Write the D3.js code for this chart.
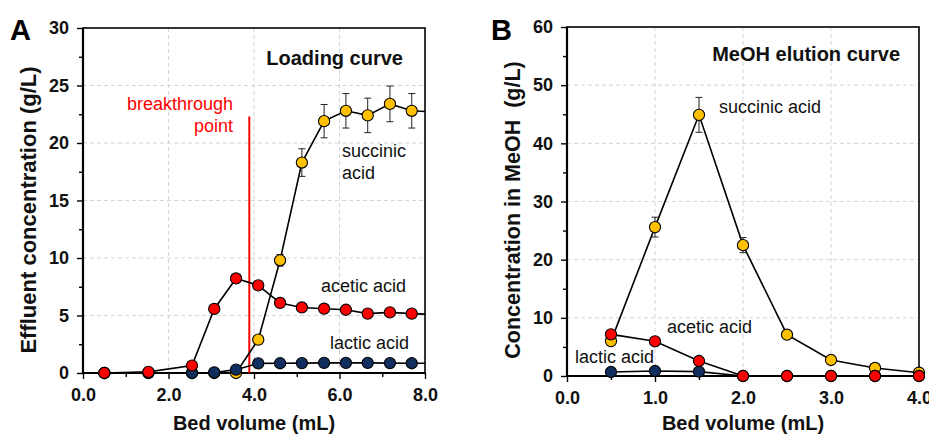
<!DOCTYPE html>
<html>
<head>
<meta charset="utf-8">
<script src="https://cdn.jsdelivr.net/npm/d3@7"></script>
<style>
  body { margin: 0; background: #fff; }
  svg { display: block; font-family: "Liberation Sans", Arial, sans-serif; }
</style>
</head>
<body>
<svg id="chart" width="929" height="434"></svg>
<script>
// panel A - loading curve
var aX        = [0.5, 1.53, 2.55, 3.07, 3.58, 4.1, 4.61, 5.12, 5.64, 6.15, 6.66, 7.18, 7.69, 8.2]
var aSuccinic = [0, 0, 0, 0, 0, 2.9, 9.8, 18.3, 21.9, 22.8, 22.4, 23.4, 22.8, 22.7]
var aSuccErr  = [0, 0, 0, 0, 0, 0, 0.5, 1.2, 1.45, 1.5, 1.5, 1.55, 1.5, 1.5]
var aAcetic   = [0, 0.1, 0.65, 5.57, 8.22, 7.62, 6.09, 5.7, 5.59, 5.5, 5.16, 5.27, 5.16, 5.1]
var aLactic   = [0, 0, 0, 0.05, 0.29, 0.84, 0.85, 0.86, 0.88, 0.88, 0.88, 0.86, 0.85, 0.85]
var breakthrough = {x: 3.89, top: 22.3}

// panel B - MeOH elution curve
var bX        = [0.5, 1.0, 1.5, 2.0, 2.5, 3.0, 3.5, 4.0]
var bSuccinic = [6.0, 25.6, 44.9, 22.5, 7.1, 2.75, 1.38, 0.57]
var bSuccErr  = [0, 1.7, 3.0, 1.3, 0, 0, 0, 0]
var bAcetic   = [7.16, 5.96, 2.58, 0, 0, 0, 0, 0]
var bLactic   = [0.69, 0.86, 0.75, 0, 0, 0, 0, 0]

var colors = {succinic: '#FFC000', acetic: '#FF0000', lactic: '#112F5E'}

var svg = d3.select('#chart')

function panel(o) {
  var x = d3.scaleLinear().domain(o.xDomain).range([o.left, o.right])
  var y = d3.scaleLinear().domain(o.yDomain).range([o.bottom, o.top])
  var g = svg.append('g')

  var clipId = 'clip' + o.letter
  g.append('clipPath').attr('id', clipId)
    .append('rect')
      .attr('x', o.left - 20).attr('y', o.top - 20)
      .attr('width', o.right - o.left + 20).attr('height', o.bottom - o.top + 40)

  // grid
  g.append('g').selectAll('line').data(o.xMajor.filter(function(d){ return d > o.xDomain[0] && d < o.xDomain[1] }))
    .join('line')
      .attr('x1', x).attr('x2', x).attr('y1', o.top).attr('y2', o.bottom)
      .attr('stroke', '#d4d4d4').attr('stroke-dasharray', '4,3')
  g.append('g').selectAll('line').data(o.yMajor.filter(function(d){ return d > o.yDomain[0] && d < o.yDomain[1] }))
    .join('line')
      .attr('y1', y).attr('y2', y).attr('x1', o.left).attr('x2', o.right)
      .attr('stroke', '#d4d4d4').attr('stroke-dasharray', '4,3')

  // axes
  var xAxis = g.append('g').attr('transform', 'translate(0,' + o.bottom + ')')
    .call(d3.axisBottom(x).tickValues(o.xMajor).tickFormat(d3.format('.1f')).tickSize(6).tickPadding(9))
  var xMinor = g.append('g').attr('transform', 'translate(0,' + o.bottom + ')')
    .call(d3.axisBottom(x).tickValues(o.xMinor).tickFormat('').tickSize(4))
  var yAxis = g.append('g').attr('transform', 'translate(' + o.left + ',0)')
    .call(d3.axisLeft(y).tickValues(o.yMajor).tickFormat(d3.format('d')).tickSize(6).tickPadding(8))
  var yMinor = g.append('g').attr('transform', 'translate(' + o.left + ',0)')
    .call(d3.axisLeft(y).tickValues(o.yMinor).tickFormat('').tickSize(4))
  ;[xAxis, xMinor, yAxis, yMinor].forEach(function(a){
    a.select('.domain').remove()
    a.selectAll('line').attr('stroke', '#000').attr('stroke-width', 1.4)
    a.selectAll('text').attr('font-size', 18).attr('font-weight', 'bold').attr('fill', '#111')
      .attr('font-family', '"Liberation Sans", Arial, sans-serif')
  })

  // frame
  g.append('rect')
    .attr('x', o.left).attr('y', o.top)
    .attr('width', o.right - o.left).attr('height', o.bottom - o.top)
    .attr('fill', 'none').attr('stroke', '#000').attr('stroke-width', 1.6)
  g.append('line').attr('x1', o.left).attr('x2', o.left).attr('y1', o.top).attr('y2', o.bottom + 1)
    .attr('stroke', '#000').attr('stroke-width', 2.2)
  g.append('line').attr('x1', o.left - 1).attr('x2', o.right).attr('y1', o.bottom).attr('y2', o.bottom)
    .attr('stroke', '#000').attr('stroke-width', 2.2)

  if (o.extra) o.extra(g, x, y)

  var line = d3.line().x(function(d){ return x(d[0]) }).y(function(d){ return y(d[1]) })

  o.series.forEach(function(s){
    var pts = o.xs.map(function(v, i){ return [v, s.values[i], s.err ? s.err[i] : 0] })
    var inside = pts.filter(function(p){ return p[0] <= o.xDomain[1] })
    g.append('path').datum(pts)
      .attr('clip-path', 'url(#' + clipId + ')')
      .attr('d', line).attr('fill', 'none').attr('stroke', '#000').attr('stroke-width', 1.6)
    if (s.err) {
      var eb = g.append('g').selectAll('g').data(inside.filter(function(p){ return p[2] > 0 })).join('g')
        .attr('stroke', '#222').attr('stroke-width', 1)
      eb.append('line').attr('x1', function(p){ return x(p[0]) }).attr('x2', function(p){ return x(p[0]) })
        .attr('y1', function(p){ return y(p[1] - p[2]) }).attr('y2', function(p){ return y(p[1] + p[2]) })
      eb.append('line').attr('x1', function(p){ return x(p[0]) - 3.5 }).attr('x2', function(p){ return x(p[0]) + 3.5 })
        .attr('y1', function(p){ return y(p[1] + p[2]) }).attr('y2', function(p){ return y(p[1] + p[2]) })
      eb.append('line').attr('x1', function(p){ return x(p[0]) - 3.5 }).attr('x2', function(p){ return x(p[0]) + 3.5 })
        .attr('y1', function(p){ return y(p[1] - p[2]) }).attr('y2', function(p){ return y(p[1] - p[2]) })
    }
    g.append('g').selectAll('circle').data(inside).join('circle')
      .attr('cx', function(p){ return x(p[0]) }).attr('cy', function(p){ return y(p[1]) })
      .attr('r', 5.6).attr('fill', s.color).attr('stroke', '#000').attr('stroke-width', 1.1)
  })

  // labels
  o.labels.forEach(function(l){
    var t = g.append('text').attr('x', l.x).attr('y', l.y)
      .attr('font-size', l.size || 18).attr('fill', l.color || '#111')
      .attr('font-weight', l.bold ? 'bold' : 'normal')
      .attr('text-anchor', l.anchor || 'start')
    l.lines.forEach(function(s, i){
      t.append('tspan').attr('x', l.x).attr('dy', i ? 22 : 0).text(s)
    })
  })

  g.append('text').attr('x', (o.left + o.right) / 2).attr('y', 430)
    .attr('text-anchor', 'middle').attr('font-size', 20).attr('font-weight', 'bold').attr('fill', '#111')
    .text('Bed volume (mL)')
  g.append('text').attr('transform', 'translate(' + o.yTitleX + ',' + o.yTitleY + ') rotate(-90)')
    .attr('text-anchor', 'middle').attr('font-size', o.yTitleSize).attr('font-weight', 'bold').attr('fill', '#111')
    .attr('xml:space', 'preserve')
    .text(o.yTitle)
  g.append('text').attr('x', o.letterX).attr('y', 40)
    .attr('font-size', 29).attr('font-weight', 'bold').attr('fill', '#000')
    .text(o.letter)
}

panel({
  letter: 'A', letterX: 10,
  left: 83, right: 425, top: 28, bottom: 373,
  xDomain: [0, 8], yDomain: [0, 30],
  xMajor: [0, 2, 4, 6, 8], xMinor: [1, 3, 5, 7],
  yMajor: [0, 5, 10, 15, 20, 25, 30], yMinor: [2.5, 7.5, 12.5, 17.5, 22.5, 27.5],
  xs: aX,
  series: [
    {values: aSuccinic, err: aSuccErr, color: colors.succinic},
    {values: aLactic, color: colors.lactic},
    {values: aAcetic, color: colors.acetic}
  ],
  extra: function(g, x, y) {
    g.append('line')
      .attr('x1', x(breakthrough.x)).attr('x2', x(breakthrough.x))
      .attr('y1', y(0)).attr('y2', y(breakthrough.top))
      .attr('stroke', '#FF0000').attr('stroke-width', 2)
  },
  labels: [
    {x: 403, y: 65, lines: ['Loading curve'], bold: true, size: 20, anchor: 'end'},
    {x: 233, y: 110, lines: ['breakthrough', 'point'], anchor: 'end', color: '#FF0000'},
    {x: 342, y: 157, lines: ['succinic', 'acid']},
    {x: 321, y: 292, lines: ['acetic acid']},
    {x: 330, y: 349, lines: ['lactic acid']}
  ],
  yTitle: 'Effluent concentration (g/L)', yTitleX: 36, yTitleY: 210, yTitleSize: 22
})

panel({
  letter: 'B', letterX: 491,
  left: 567, right: 919, top: 27, bottom: 376,
  xDomain: [0, 4], yDomain: [0, 60],
  xMajor: [0, 1, 2, 3, 4], xMinor: [0.5, 1.5, 2.5, 3.5],
  yMajor: [0, 10, 20, 30, 40, 50, 60], yMinor: [5, 15, 25, 35, 45, 55],
  xs: bX,
  series: [
    {values: bSuccinic, err: bSuccErr, color: colors.succinic},
    {values: bLactic, color: colors.lactic},
    {values: bAcetic, color: colors.acetic}
  ],
  labels: [
    {x: 900, y: 61, lines: ['MeOH elution curve'], bold: true, size: 20, anchor: 'end'},
    {x: 719, y: 113, lines: ['succinic acid']},
    {x: 667, y: 333, lines: ['acetic acid']},
    {x: 575, y: 363, lines: ['lactic acid']}
  ],
  yTitle: 'Concentration in MeOH  (g/L)', yTitleX: 520, yTitleY: 210, yTitleSize: 21.5
})
</script>
</body>
</html>
